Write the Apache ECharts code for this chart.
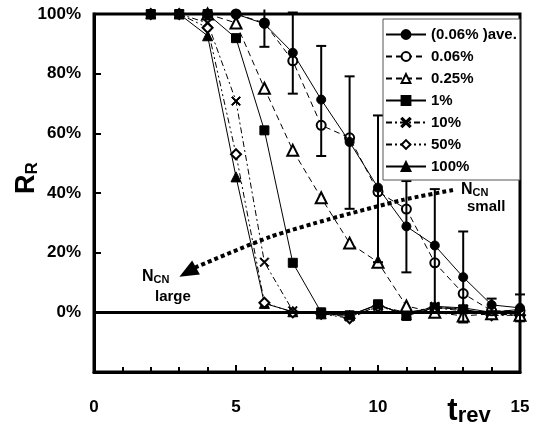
<!DOCTYPE html>
<html>
<head>
<meta charset="utf-8">
<script src="https://cdn.jsdelivr.net/npm/echarts@6/dist/echarts.min.js"></script>
<style>html,body{margin:0;padding:0;background:#fff;}#c{width:539px;height:434px;}</style>
</head>
<body>
<div id="c"></div>
<script>
// ---- data ----
const tRev = [2,3,4,5,6,7,8,9,10,11,12,13,14,15];
const rAve  = [null,null,100,100,96.7,87.0,71.3,57.1,41.8,28.8,22.4,11.8,2.5,1.5];
const errLow  = [null,null,null,null,89.0,73.3,52.4,34.7,16.8,13.4,1.6,-3.4,0.4,-3.0];
const errHigh = [null,null,null,null,101.5,100.5,89.3,79.1,66.0,44.0,41.3,27.1,4.6,6.0];
const r006 = [null,null,100,100,97.0,84.3,62.7,58.5,40.4,34.6,16.6,6.3,0.5,0.5];
const r025 = [null,null,100,97,75.1,54.3,38.4,23.2,16.8,2.1,0.0,-1.2,-0.5,-1.0];
const r1   = [100,100,100,91.9,61.0,16.6,0.0,-1.0,2.7,-1.2,1.6,1.0,-0.5,0.0];
const r10  = [100,100,97,70.8,16.8,0.5,-0.5,-1.5,2.0,-0.5,2.0,1.0,-1.0,-0.5];
const r50  = [100,100,95.4,53.0,3.2,0.0,-0.5,-2.0,2.0,0.0,1.5,0.5,-1.0,-1.0];
const r100 = [100,100,92.7,45.4,3.0,0.2,-0.5,-1.0,2.5,-0.8,2.0,1.5,0.0,1.0];
const seriesNames = ['(0.06% )ave.','0.06%','0.25%','1%','10%','50%','100%'];
const arrowT = [12.64,10.88,8.31,6.20,3.63,3.30];
const arrowR = [41.0,37.7,31.3,25.3,15.3,13.5];
const xTicks = [0,5,10,15];
const yTicks = [0,20,40,60,80,100];

// ---- build ----
const pair = arr => tRev.map((t,i)=>[t,arr[i]]);
const errData = tRev.map((t,i)=>[t,errLow[i],errHigh[i]]).filter(d=>d[1]!==null);
const crossPath = 'path://M0,1L1,0L5,4L9,0L10,1L6,5L10,9L9,10L5,6L1,10L0,9L4,5Z';
const FONT = 'Liberation Sans, Arial, sans-serif';
const black = '#000';

function lineSeries(name, arr, symbol, size, dash, z){
  return {
    name, type:'line', data: pair(arr), symbol, symbolSize:size,
    showAllSymbol:true, connectNulls:false,
    lineStyle:{color:black, width:1, type:dash},
    itemStyle:{color:black, borderColor:black, borderWidth:1},
    z: z, animation:false
  };
}

const arrowData = arrowT.map((t,i)=>{
  if(i===arrowT.length-1){
    return {value:[t,arrowR[i]], symbol:'triangle', symbolSize:[16,19], symbolRotate:119};
  }
  return {value:[t,arrowR[i]], symbol:'none'};
});

const chart = echarts.init(document.getElementById('c'), null, {renderer:'canvas'});
chart.setOption({
  backgroundColor:'#fff',
  animation:false,
  grid:{left:94, right:19, top:14, bottom:62, show:true, borderColor:black, borderWidth:3, backgroundColor:'transparent'},
  xAxis:{
    type:'value', min:0, max:15, interval:5,
    axisLine:{show:true, onZero:false, lineStyle:{color:black, width:3}},
    axisTick:{show:true, inside:true, length:7, lineStyle:{color:black, width:2}},
    minorTick:{show:true, splitNumber:5, length:5, lineStyle:{color:black, width:2}},
    splitLine:{show:false},
    axisLabel:{margin:27, color:black, fontFamily:FONT, fontWeight:'bold', fontSize:17,
      formatter:v=> xTicks.indexOf(v)>=0 ? String(v) : ''}
  },
  yAxis:{
    type:'value', min:-20, max:100, interval:20,
    axisLine:{show:true, onZero:false, lineStyle:{color:black, width:3}},
    axisTick:{show:true, inside:true, length:7, lineStyle:{color:black, width:2}},
    splitLine:{show:false},
    axisLabel:{margin:13, color:black, fontFamily:FONT, fontWeight:'bold', fontSize:17,
      formatter:v=> yTicks.indexOf(v)>=0 ? v+'%' : ''}
  },
  legend:{
    orient:'vertical', left:383, top:19,
    data: seriesNames,
    itemWidth:40, itemHeight:11, itemGap:7,
    padding:[8,3,6,2],
    backgroundColor:'#fff', borderColor:'#555', borderWidth:1,
    textStyle:{color:black, fontFamily:FONT, fontWeight:'bold', fontSize:15},
    z:10
  },
  graphic:[
    {type:'text', x:27, y:178, rotation:Math.PI/2, z:20,
     style:{text:'{a|R}{b|R}', align:'center', verticalAlign:'middle',
       rich:{a:{fontFamily:FONT, fontWeight:'bold', fontSize:27, fill:black},
             b:{fontFamily:FONT, fontWeight:'bold', fontSize:17, fill:black, verticalAlign:'bottom'}}}},
    {type:'text', x:469, y:411, z:20,
     style:{text:'{a|t}{b|rev}', align:'center', verticalAlign:'middle',
       rich:{a:{fontFamily:FONT, fontWeight:'bold', fontSize:31, fill:black},
             b:{fontFamily:FONT, fontWeight:'bold', fontSize:22, fill:black, verticalAlign:'bottom'}}}},
    {type:'text', x:461, y:190, z:20,
     style:{text:'{a|N}{b|CN}', verticalAlign:'middle',
       rich:{a:{fontFamily:FONT, fontWeight:'bold', fontSize:16, fill:black},
             b:{fontFamily:FONT, fontWeight:'bold', fontSize:11, fill:black, verticalAlign:'bottom'}}}},
    {type:'text', x:467, y:207, z:20,
     style:{text:'small', verticalAlign:'middle', fontFamily:FONT, fontWeight:'bold', fontSize:15, fill:black}},
    {type:'text', x:142, y:277, z:20,
     style:{text:'{a|N}{b|CN}', verticalAlign:'middle',
       rich:{a:{fontFamily:FONT, fontWeight:'bold', fontSize:16, fill:black},
             b:{fontFamily:FONT, fontWeight:'bold', fontSize:11, fill:black, verticalAlign:'bottom'}}}},
    {type:'text', x:155, y:297, z:20,
     style:{text:'large', verticalAlign:'middle', fontFamily:FONT, fontWeight:'bold', fontSize:15, fill:black}}
  ],
  series:[
    {
      name:'zero', type:'line', data:[], silent:true, z:1,
      markLine:{silent:true, symbol:'none', label:{show:false},
        lineStyle:{color:black, width:3, type:'solid'}, data:[{yAxis:0}]}
    },
    lineSeries(seriesNames[6], r100, 'triangle', 10, 'solid', 3),
    lineSeries(seriesNames[5], r50, 'emptyDiamond', 10, [6,3,2,3,2,3], 3),
    lineSeries(seriesNames[4], r10, crossPath, 9, [6,3,2,3], 3),
    lineSeries(seriesNames[3], r1, 'rect', 9, 'solid', 3),
    lineSeries(seriesNames[2], r025, 'emptyTriangle', 11, [6,4], 3),
    lineSeries(seriesNames[1], r006, 'emptyCircle', 9, [6,4], 3),
    lineSeries(seriesNames[0], rAve, 'circle', 9, 'solid', 4),
    {
      name:'err', type:'custom', data:errData, z:4, clip:false, silent:true,
      renderItem:function(params, api){
        const lo = api.coord([api.value(0), api.value(1)]);
        const hi = api.coord([api.value(0), api.value(2)]);
        const top = api.coord([api.value(0), 100])[1];
        const c = 5;
        const st = {stroke:black, lineWidth:2};
        const kids = [
          {type:'line', shape:{x1:lo[0],y1:lo[1],x2:hi[0],y2:hi[1]}, style:st},
          {type:'line', shape:{x1:lo[0]-c,y1:lo[1],x2:lo[0]+c,y2:lo[1]}, style:st}
        ];
        if (hi[1] >= top - 3) {
          kids.push({type:'line', shape:{x1:hi[0]-c,y1:hi[1],x2:hi[0]+c,y2:hi[1]}, style:st});
        }
        return {type:'group', children:kids};
      }
    },
    {
      name:'arrow', type:'line', data:arrowData, smooth:0.2, silent:true, z:5,
      showSymbol:true, showAllSymbol:true,
      lineStyle:{color:black, width:4, type:[4,3]},
      itemStyle:{color:black}
    }
  ]
});
</script>
</body>
</html>
